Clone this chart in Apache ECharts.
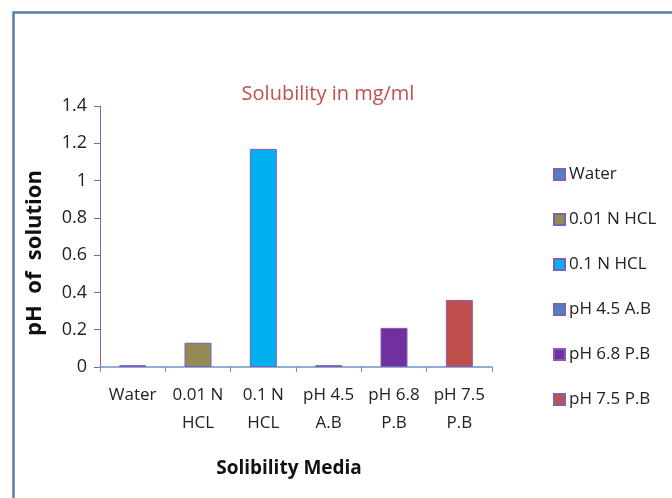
<!DOCTYPE html>
<html>
<head>
<meta charset="utf-8">
<script src="https://cdn.jsdelivr.net/npm/echarts@6/dist/echarts.min.js"></script>
<style>
  html, body { margin: 0; padding: 0; background: #fff; }
  #chart { width: 672px; height: 498px; }
</style>
</head>
<body>
<div id="chart"></div>
<script>
// Solubility of the drug in each dissolution medium (mg/ml)
const categories = ['Water', '0.01 N\nHCL', '0.1 N\nHCL', 'pH 4.5\nA.B', 'pH 6.8\nP.B', 'pH 7.5\nP.B'];
const seriesNames = ['Water', '0.01 N HCL', '0.1 N HCL', 'pH 4.5 A.B', 'pH 6.8 P.B', 'pH 7.5 P.B'];
const solubility = [0.01, 0.13, 1.17, 0.01, 0.21, 0.36];
const barColors = ['#4f81bd', '#948a54', '#00b0f0', '#4f81bd', '#7030a0', '#c0504d'];

const FONT = "'Open Sans', sans-serif";

// One series per medium, each holding only its own category's value,
// stacked so that every bar sits centred in its category.
const series = seriesNames.map((name, i) => ({
  name: name,
  type: 'bar',
  stack: 'media',
  barWidth: 27,
  data: solubility.map((v, j) => (j === i ? v : null)),
  itemStyle: { color: barColors[i], borderColor: '#7f5fb8', borderWidth: 1 }
}));

const chart = echarts.init(document.getElementById('chart'), null, { renderer: 'canvas' });
chart.setOption({
  animation: false,
  backgroundColor: '#ffffff',
  title: {
    text: 'Solubility in mg/ml',
    left: 323, top: 79, textAlign: 'center',
    textStyle: { color: '#c0504d', fontFamily: FONT, fontSize: 20, fontWeight: 'normal' }
  },
  legend: {
    orient: 'vertical',
    left: 548, top: 161,
    itemWidth: 11, itemHeight: 11, itemGap: 28,
    icon: 'rect',
    data: seriesNames,
    textStyle: { color: '#222', fontFamily: FONT, fontSize: 17, padding: [0, 0, 0, -1] }
  },
  grid: { left: 100, right: 180, top: 106, bottom: 131 },
  xAxis: {
    type: 'category',
    data: categories,
    axisLine: { lineStyle: { color: '#6f94c8', width: 1.5 } },
    axisTick: { show: true, length: 5, lineStyle: { color: '#6f94c8' } },
    axisLabel: { color: '#222', fontFamily: FONT, fontSize: 17, lineHeight: 28, margin: 14, interval: 0 },
    name: 'Solibility Media',
    nameLocation: 'middle',
    nameGap: 92,
    nameTextStyle: { color: '#111', fontFamily: FONT, fontSize: 19, fontWeight: 'bold', padding: [0, 14, 0, 0] }
  },
  yAxis: {
    type: 'value',
    min: 0, max: 1.4, interval: 0.2,
    axisLine: { show: true, lineStyle: { color: '#8a5fc0', width: 1 } },
    axisTick: { show: true, length: 6, lineStyle: { color: '#8a5fc0' } },
    splitLine: { show: false },
    axisLabel: {
      color: '#222', fontFamily: FONT, fontSize: 18, margin: 13,
      formatter: v => String(Math.round(v * 10) / 10)
    }
  },
  graphic: [
    {
      type: 'rect', left: 11, top: 10, shape: { width: 700, height: 520 },
      style: { fill: 'none', stroke: '#5b7cad', lineWidth: 2.5 }, silent: true
    },
    {
      type: 'text', x: 35, y: 253, rotation: Math.PI / 2,
      style: {
        text: 'pH  of  solution', fill: '#111', fontFamily: FONT, fontSize: 22, fontWeight: 'bold',
        align: 'center', verticalAlign: 'middle'
      }
    }
  ],
  series: series
});
</script>
</body>
</html>
